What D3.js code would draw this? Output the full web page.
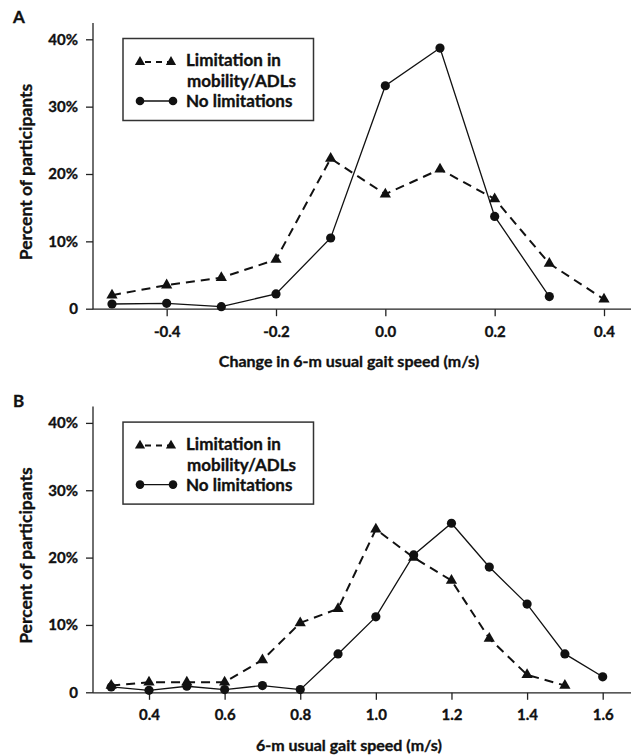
<!DOCTYPE html>
<html>
<head>
<meta charset="utf-8">
<script src="https://cdn.jsdelivr.net/npm/d3@7"></script>
<style>
  body { margin: 0; background: white; }
  text { font-family: Lato, "Open Sans", sans-serif; font-weight: bold; fill: #111;
         stroke: #111; stroke-width: 0.35px; }
</style>
</head>
<body>
<div id="chart"></div>
<script>

const width = 635
const height = 756

// panel A: change in gait speed
const changeSpeed = [-0.5, -0.4, -0.3, -0.2, -0.1, 0.0, 0.1, 0.2, 0.3, 0.4];
const changeLimited = [2.0, 3.5, 4.6, 7.3, 22.3, 17.0, 20.7, 16.3, 6.7, 1.4];
const changeNone = [0.7, 0.8, 0.3, 2.2, 10.5, 33.1, 38.7, 13.7, 1.8];
const changeTicks = [-0.4, -0.2, 0.0, 0.2, 0.4];

// panel B: usual gait speed
const gaitSpeed = [0.3, 0.4, 0.5, 0.6, 0.7, 0.8, 0.9, 1.0, 1.1, 1.2, 1.3, 1.4, 1.5, 1.6];
const gaitLimited = [1.0, 1.5, 1.5, 1.5, 4.8, 10.3, 12.4, 24.2, 20.0, 16.6, 8.0, 2.6, 1.0];
const gaitNone = [0.8, 0.3, 0.9, 0.4, 1.0, 0.4, 5.7, 11.2, 20.4, 25.1, 18.6, 13.1, 5.7, 2.3];
const gaitTicks = [0.4, 0.6, 0.8, 1.0, 1.2, 1.4, 1.6];

const pctTicks = [0, 10, 20, 30, 40];
const legendLabels = ["Limitation in", "mobility/ADLs", "No limitations"];

const svg = d3.select("#chart")
  .append("svg")
  .attr("width", width)
  .attr("height", height)

// plain hyphen instead of the unicode minus d3 uses
const fmtX = d => d3.format(".1f")(d).replace("\u2212", "-");

function drawPanel(top, letter, xs, limited, none, ticks, xTitle, xRange) {
  const g = svg.append("g").attr("transform", `translate(0,${top})`);

  const x = d3.scaleLinear().domain([xs[0], xs[xs.length - 1]]).range(xRange);
  const y = d3.scaleLinear().domain([0, 40]).range([308.7, 39.3]);

  g.append("text")
    .attr("x", 13)
    .attr("y", 23)
    .attr("font-size", 17)
    .text(letter)

  // axis lines
  g.append("line")
    .attr("x1", 93).attr("x2", 93)
    .attr("y1", 23).attr("y2", y(0) + 0.5)
    .attr("stroke", "#222").attr("stroke-width", 1.3)
  g.append("line")
    .attr("x1", 93).attr("x2", 631)
    .attr("y1", y(0) + 0.5).attr("y2", y(0) + 0.5)
    .attr("stroke", "#222").attr("stroke-width", 1.3)

  const yAxis = g.append("g")
    .attr("transform", "translate(93,0)")
    .call(d3.axisLeft(y).tickValues(pctTicks).tickSize(7).tickPadding(8)
      .tickFormat(d => d === 0 ? "0" : d + "%"))
  yAxis.select(".domain").remove();

  const xAxis = g.append("g")
    .attr("transform", `translate(0,${y(0) + 0.5})`)
    .call(d3.axisBottom(x).tickValues(ticks).tickSize(7).tickPadding(10)
      .tickFormat(fmtX))
  xAxis.select(".domain").remove();

  g.selectAll(".tick line").attr("stroke", "#222").attr("stroke-width", 1.3);
  g.selectAll(".tick text")
    .attr("font-size", 15)
    .attr("font-family", "Lato, sans-serif")
    .attr("font-weight", "bold")
    .attr("fill", "#111");

  g.append("text")
    .attr("transform", `translate(32,${(y(0) + y(40)) / 2 - 2}) rotate(-90)`)
    .attr("text-anchor", "middle")
    .attr("font-size", 17.5)
    .text("Percent of participants")

  g.append("text")
    .attr("x", 349)
    .attr("y", 367)
    .attr("text-anchor", "middle")
    .attr("font-size", 16)
    .text(xTitle)

  const line = d3.line().x(d => x(d[0])).y(d => y(d[1]));
  const limPts = limited.map((v, i) => [xs[i], v]);
  const nonePts = none.map((v, i) => [xs[i], v]);

  g.append("path")
    .datum(limPts)
    .attr("d", line)
    .attr("fill", "none")
    .attr("stroke", "#111")
    .attr("stroke-width", 2)
    .attr("stroke-dasharray", "9,6")

  g.append("path")
    .datum(nonePts)
    .attr("d", line)
    .attr("fill", "none")
    .attr("stroke", "#111")
    .attr("stroke-width", 1.3)

  const tri = d3.symbol().type(d3.symbolTriangle).size(55);

  g.selectAll("path.tri")
    .data(limPts)
    .enter()
    .append("path")
    .attr("class", "tri")
    .attr("d", tri)
    .attr("transform", d => `translate(${x(d[0])},${y(d[1])})`)
    .attr("fill", "#111")

  g.selectAll("circle.dot")
    .data(nonePts)
    .enter()
    .append("circle")
    .attr("class", "dot")
    .attr("cx", d => x(d[0]))
    .attr("cy", d => y(d[1]))
    .attr("r", 4.6)
    .attr("fill", "#111")

  // legend
  const legend = g.append("g").attr("class", "legend");
  legend.append("rect")
    .attr("x", 123)
    .attr("y", 38.5)
    .attr("width", 190.5)
    .attr("height", 82)
    .attr("fill", "white")
    .attr("stroke", "#333")
    .attr("stroke-width", 1.5)
  legend.append("line")
    .attr("x1", 140).attr("x2", 171)
    .attr("y1", 62).attr("y2", 62)
    .attr("stroke", "#111").attr("stroke-width", 2)
    .attr("stroke-dasharray", "6,5").attr("stroke-dashoffset", -5)
  legend.selectAll("path.ltri")
    .data([140, 171])
    .enter()
    .append("path")
    .attr("d", d3.symbol().type(d3.symbolTriangle).size(45))
    .attr("transform", d => `translate(${d},62)`)
    .attr("fill", "#111")
  legend.append("line")
    .attr("x1", 140).attr("x2", 173)
    .attr("y1", 101).attr("y2", 101)
    .attr("stroke", "#111").attr("stroke-width", 1.3)
  legend.selectAll("circle.lc")
    .data([140, 173])
    .enter()
    .append("circle")
    .attr("cx", d => d)
    .attr("cy", 101)
    .attr("r", 4.3)
    .attr("fill", "#111")
  legend.selectAll("text")
    .data(legendLabels)
    .enter()
    .append("text")
    .attr("x", (d, i) => i === 1 ? 187 : 186)
    .attr("y", (d, i) => [66, 87, 107][i])
    .attr("font-size", 17)
    .text(d => d)
}

drawPanel(0, "A", changeSpeed, changeLimited, changeNone, changeTicks,
  "Change in 6-m usual gait speed (m/s)", [112, 604]);
drawPanel(383.6, "B", gaitSpeed, gaitLimited, gaitNone, gaitTicks,
  "6-m usual gait speed (m/s)", [111.2, 602.7]);

</script>
</body>
</html>
